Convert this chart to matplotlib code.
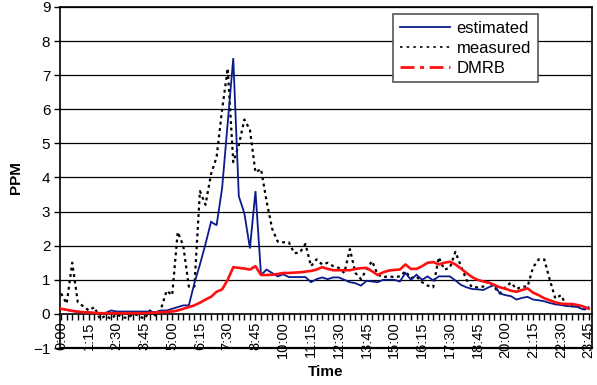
import matplotlib
matplotlib.use("Agg")
import matplotlib.pyplot as plt
from matplotlib.lines import Line2D
import numpy as np

plt.rcParams['font.family'] = ['Liberation Sans', 'DejaVu Sans']

# 15-minute samples over one day (96 intervals)
estimated = [
    0.15, 0.12, 0.08, 0.06, 0.05, 0.05, 0.03, 0.02, 0.03, 0.10,
    0.07, 0.07, 0.07, 0.07, 0.07, 0.07, 0.07, 0.05, 0.10, 0.10,
    0.15, 0.20, 0.25, 0.25, 0.90, 1.45, 2.05, 2.70, 2.60, 3.70,
    5.60, 7.50, 3.45, 2.95, 1.92, 3.60, 1.14, 1.30, 1.20, 1.10,
    1.16, 1.08, 1.08, 1.08, 1.08, 0.93, 1.02, 1.07, 1.02, 1.07,
    1.07, 1.00, 0.93, 0.90, 0.83, 0.97, 0.95, 0.93, 1.00, 1.00,
    1.00, 0.95, 1.20, 1.00, 1.15, 1.00, 1.10, 0.98, 1.10, 1.10,
    1.10, 0.98, 0.85, 0.78, 0.73, 0.72, 0.70, 0.78, 0.85, 0.60,
    0.55, 0.52, 0.42, 0.47, 0.50, 0.42, 0.40, 0.37, 0.32, 0.28,
    0.26, 0.23, 0.22, 0.20, 0.13, 0.20,
]

measured = [
    0.60, 0.30, 1.50, 0.35, 0.22, 0.10, 0.20, -0.15, -0.05, -0.15,
    0.00, -0.10, -0.12, 0.00, -0.05, -0.15, 0.10, -0.05, 0.15, 0.68,
    0.55, 2.40, 2.00, 0.80, 0.80, 3.60, 3.20, 4.10, 4.60, 6.00,
    7.20, 4.45, 4.95, 5.70, 5.40, 4.15, 4.25, 3.30, 2.50, 2.12,
    2.10, 2.10, 1.78, 1.80, 2.05, 1.40, 1.60, 1.45, 1.50, 1.40,
    1.35, 1.20, 1.90, 1.20, 1.02, 1.30, 1.55, 1.15, 1.08, 1.10,
    1.08, 1.10, 1.25, 1.05, 1.10, 0.93, 0.83, 0.78, 1.66, 1.30,
    1.35, 1.82, 1.40, 1.00, 0.78, 0.78, 0.80, 0.97, 0.78, 0.60,
    0.78, 0.92, 0.73, 0.80, 0.80, 1.37, 1.60, 1.60, 1.00, 0.45,
    0.55, 0.25, 0.23, 0.22, 0.15, 0.12,
]

dmrb = [
    0.15, 0.12, 0.09, 0.07, 0.05, 0.04, 0.03, 0.02, 0.02, 0.02,
    0.02, 0.02, 0.02, 0.02, 0.02, 0.02, 0.03, 0.04, 0.05, 0.06,
    0.07, 0.10, 0.15, 0.20, 0.25, 0.33, 0.42, 0.50, 0.65, 0.72,
    1.00, 1.37, 1.35, 1.33, 1.30, 1.40, 1.14, 1.14, 1.15, 1.17,
    1.20, 1.20, 1.21, 1.22, 1.24, 1.26, 1.30, 1.37, 1.32, 1.28,
    1.28, 1.28, 1.28, 1.32, 1.34, 1.35, 1.25, 1.14, 1.22, 1.27,
    1.29, 1.30, 1.45, 1.32, 1.32, 1.40, 1.50, 1.52, 1.45, 1.50,
    1.53, 1.45, 1.33, 1.20, 1.08, 1.00, 0.95, 0.92, 0.85, 0.78,
    0.74, 0.68, 0.65, 0.70, 0.75, 0.62, 0.55, 0.46, 0.40, 0.34,
    0.30, 0.29, 0.29, 0.26, 0.22, 0.15,
]

tick_labels = ['0:00', '1:15', '2:30', '3:45', '5:00', '6:15', '7:30', '8:45',
               '10:00', '11:15', '12:30', '13:45', '15:00', '16:15', '17:30',
               '18:45', '20:00', '21:15', '22:30', '23:45']
tick_step = 5  # one label every 5 intervals

x = np.arange(len(estimated))

fig = plt.figure(figsize=(5.97, 3.85), dpi=100)
ax = fig.add_axes([60 / 597, 1 - 348 / 385, 532 / 597, 341 / 385])

ax.plot(x, estimated, color='#0b1a8c', lw=1.3, solid_joinstyle='miter', zorder=4)
ax.plot(x, measured, color='black', lw=1.6, linestyle=(0, (1.3, 1.6)), zorder=3)
ax.plot(x, dmrb, color='#ff1010', lw=1.9, zorder=5)

ax.set_xlim(-0.2, 95.6)
ax.set_ylim(-1, 9)

# horizontal grid
ax.set_yticks(range(-1, 10))
for yv in range(1, 10):
    ax.axhline(yv, color='black', lw=0.9, zorder=1)

# category axis crosses at y = 0
ax.spines['bottom'].set_position(('data', 0))
ax.spines['bottom'].set_linewidth(1.2)
ax.axhline(-1, color='black', lw=1.6, clip_on=False, zorder=6)
for side in ('left', 'right', 'top'):
    ax.spines[side].set_color('black')
    ax.spines[side].set_linewidth(1.2)

ax.set_xticks(np.arange(0, len(estimated), tick_step))
ax.set_xticklabels(tick_labels, rotation=90, fontsize=10.5)
ax.set_xticks(x, minor=True)
ax.tick_params(axis='x', which='both', direction='out', length=4, width=1,
               pad=1.5, color='black')
ax.tick_params(axis='y', direction='out', length=4, width=1, labelsize=11, pad=3)

ax.set_ylabel('PPM', fontsize=11, fontweight='bold', labelpad=7)
ax.set_xlabel('Time', fontsize=11, fontweight='bold')
ax.xaxis.set_label_coords(0.5, -0.05)

handles = [
    Line2D([], [], color='#0b1a8c', lw=1.3),
    Line2D([], [], color='black', lw=1.2, linestyle=(0, (1.5, 2.5))),
    Line2D([], [], color='#ff1010', lw=2, linestyle=(0, (5, 2, 1.5, 2))),
]
leg = ax.legend(handles, ['estimated', 'measured', 'DMRB'],
                loc='upper right', bbox_to_anchor=(0.898, 0.979),
                fontsize=12, fancybox=False, framealpha=1,
                edgecolor='#555555', handlelength=3.0, handletextpad=0.4,
                labelspacing=0.3, borderpad=0.4, borderaxespad=0)
leg.get_frame().set_linewidth(1.2)
leg.set_zorder(10)

fig.savefig('out.png', dpi=100)
